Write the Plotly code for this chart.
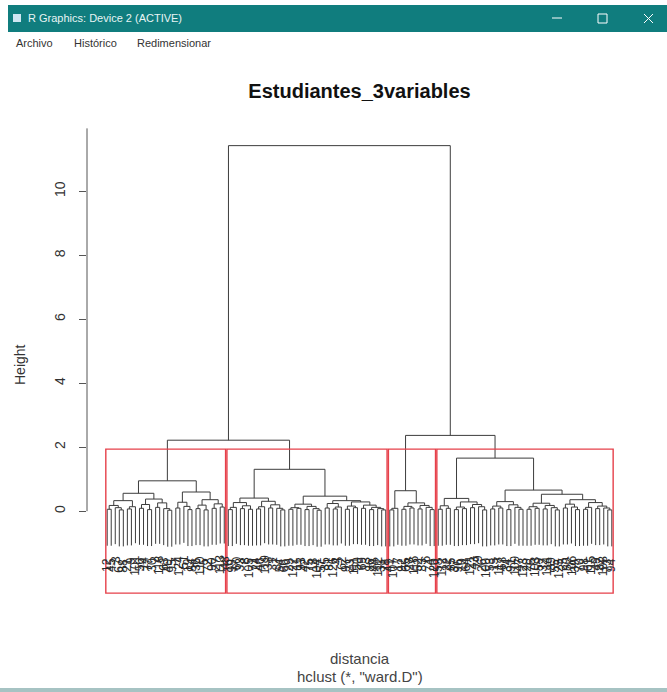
import plotly.graph_objects as go

# ---------------- data ----------------
TITLE = "Estudiantes_3variables"
X_LABEL = "distancia"
SUB_LABEL = 'hclust (*, "ward.D")'
Y_LABEL = "Height"
WINDOW_TITLE = "R Graphics: Device 2 (ACTIVE)"
MENU_ITEMS = ["Archivo", "Histórico", "Redimensionar"]

# nested merges: [height, left, right]; leaves are observation labels
cluster1 = [0.95,
            [0.56,
             [0.33, [0.18, [0.06, 12, 45], [0.11, 3, [0.04, 67, 88]]], [0.14, [0.07, 21, 9], 101]],
             [0.38, [0.21, [0.09, 56, 14], [0.05, 77, 30]], [0.26, [0.12, 2, 118], [0.08, 63, [0.03, 40, 95]]]]],
            [0.60,
             [0.28, [0.10, 7, 124], [0.15, 51, [0.05, 19, 84]]],
             [0.36, [0.19, [0.08, 36, 110], [0.04, 5, 72]], [0.23, [0.09, 90, 27], [0.13, 113, 48]]]]]

cluster2 = [1.31,
            [0.41,
             [0.27, [0.12, [0.05, 16, 99], 60], [0.17, [0.08, 33, 8], [0.06, 105, 71]]],
             [0.31, [0.14, [0.07, 24, 46], 119], [0.20, [0.10, 38, 1], [0.09, 87, [0.04, 54, 66]]]]],
            [0.47,
             [0.22, [0.11, [0.06, 29, 122], [0.09, 11, 93]], [0.15, [0.05, 42, 75], [0.08, 18, [0.03, 104, 57]]]],
             [0.33, [0.24, [0.10, 35, 81], [0.13, [0.07, 126, 4], 62]],
              [0.29, [0.16, [0.06, 97, 23], [0.11, 111, 50]],
               [0.19, [0.09, 69, 13], [0.12, [0.05, 86, 44], [0.08, 102, [0.04, 31, 78]]]]]]]]

cluster3 = [0.64,
            [0.09, [0.04, 41, 107], 17],
            [0.26, [0.15, [0.06, 92, 65], [0.10, 28, 116]], [0.18, [0.07, 52, 83], [0.12, 6, [0.05, 74, 120]]]]]

cluster4 = [1.66,
            [0.40,
             [0.17, [0.06, 58, 112], [0.09, 22, 85]],
             [0.29, [0.13, [0.05, 37, 96], [0.08, 10, 64]], [0.21, [0.11, 121, 43], [0.14, 79, [0.04, 26, 100]]]]],
            [0.66,
             [0.30, [0.16, [0.07, 53, 15], [0.10, 117, 68]], [0.20, [0.05, 34, 91], [0.12, 109, [0.06, 47, 123]]]],
             [0.53,
              [0.25, [0.14, [0.06, 20, 76], [0.09, 103, 59]], [0.18, [0.07, 32, 114], [0.11, 89, [0.04, 55, 125]]]],
              [0.36, [0.22, [0.10, 25, 80], [0.13, 106, [0.05, 39, 70]]],
               [0.27, [0.12, [0.06, 98, 61], 115], [0.16, [0.08, 49, 82], [0.10, 108, [0.04, 73, 94]]]]]]]]

merge_12_height = 2.22
merge_34_height = 2.37
root_height = 11.43
k_clusters = 4
hang = 0.1
y_ticks = [0, 2, 4, 6, 8, 10]
axis_top = 11.97

clusters = [cluster1, cluster2, cluster3, cluster4]
tree = [root_height, [merge_12_height, cluster1, cluster2], [merge_34_height, cluster3, cluster4]]


# ---------------- helpers ----------------
def all_heights(node, out):
    if isinstance(node, int):
        return out
    out.append(node[0])
    all_heights(node[1], out)
    all_heights(node[2], out)
    return out


def count_leaves(node):
    if isinstance(node, int):
        return 1
    return count_leaves(node[1]) + count_leaves(node[2])


heights = all_heights(tree, [])
hang_amt = hang * (max(heights) - min(heights))

seg_x, seg_y = [], []
leaf_x, leaf_y, leaf_lab = [], [], []


def place(node):
    if isinstance(node, int):
        idx = len(leaf_lab) + 1
        leaf_lab.append(node)
        leaf_x.append(idx)
        leaf_y.append(None)
        return idx, None, idx - 1
    h, a, b = node
    xa, ha, ia = place(a)
    xb, hb, ib = place(b)
    if ha is None:
        ha = h - hang_amt
        leaf_y[ia] = ha
    if hb is None:
        hb = h - hang_amt
        leaf_y[ib] = hb
    seg_x.extend([xa, xa, xb, xb, None])
    seg_y.extend([ha, h, h, hb, None])
    return (xa + xb) / 2, h, None


place(tree)
n_leaves = len(leaf_lab)

# ---------------- geometry of page ----------------
W, H = 667, 692
ML, MR, MT, MB = 87, 35, 121, 97
PW, PH = W - ML - MR, H - MT - MB
y_lo, y_hi = -2.62, 12.2
x_pad = 0.04 * (n_leaves - 1)
x_lo, x_hi = 1 - x_pad, n_leaves + x_pad


def px(xp):
    return (xp - ML) / PW


def py(yp):
    return (H - MB - yp) / PH


fig = go.Figure()
fig.add_trace(go.Scatter(x=seg_x, y=seg_y, mode="lines",
                         line=dict(color="#3c3c3c", width=1),
                         hoverinfo="skip", showlegend=False))

# cluster rectangles (rect.hclust)
sorted_h = sorted(heights, reverse=True)
cut_h = (sorted_h[k_clusters - 2] + sorted_h[k_clusters - 1]) / 2
rect_bottom = -2.56
shapes = []
start = 0
for c in clusters:
    n = count_leaves(c)
    shapes.append(dict(type="rect", xref="x", yref="y",
                       x0=start + 0.66, x1=start + n + 0.33,
                       y0=rect_bottom, y1=cut_h,
                       line=dict(color="#e6404a", width=1.4)))
    start += n

# y axis line
shapes.append(dict(type="line", xref="paper", yref="y", x0=0, x1=0, y0=0, y1=axis_top,
                   line=dict(color="#555555", width=1)))

annotations = []
for xv, yv, lab in zip(leaf_x, leaf_y, leaf_lab):
    annotations.append(dict(x=xv, y=yv, xref="x", yref="y", text=str(lab),
                            showarrow=False, textangle=-90, xanchor="center",
                            yanchor="top", yshift=-10,
                            font=dict(family="Liberation Sans", size=12, color="#2a2a2a")))


def label(text, xp, yp, size, color, family="Liberation Sans", xanchor="center", angle=0):
    annotations.append(dict(x=px(xp), y=py(yp), xref="paper", yref="paper", text=text,
                            showarrow=False, textangle=angle, xanchor=xanchor, yanchor="middle",
                            font=dict(family=family, size=size, color=color)))


label(Y_LABEL, 20, 365, 14, "#333333", angle=-90)
label(X_LABEL, 359.5, 658, 15, "#444444")
label(SUB_LABEL, 359.5, 676, 15, "#444444")

# window chrome
shapes.append(dict(type="rect", xref="paper", yref="paper", x0=px(8), x1=px(667), y0=py(32), y1=py(5),
                   fillcolor="#107d7e", line=dict(width=0), layer="above"))
shapes.append(dict(type="rect", xref="paper", yref="paper", x0=px(13), x1=px(21), y0=py(22), y1=py(14),
                   fillcolor="#cfe6f2", line=dict(width=0), layer="above"))
shapes.append(dict(type="line", xref="paper", yref="paper", x0=px(552), x1=px(562), y0=py(18), y1=py(18),
                   line=dict(color="white", width=1), layer="above"))
shapes.append(dict(type="rect", xref="paper", yref="paper", x0=px(598), x1=px(607), y0=py(23), y1=py(14),
                   line=dict(color="white", width=1), layer="above"))
shapes.append(dict(type="line", xref="paper", yref="paper", x0=px(644), x1=px(653), y0=py(14), y1=py(23),
                   line=dict(color="white", width=1), layer="above"))
shapes.append(dict(type="line", xref="paper", yref="paper", x0=px(644), x1=px(653), y0=py(23), y1=py(14),
                   line=dict(color="white", width=1), layer="above"))
shapes.append(dict(type="rect", xref="paper", yref="paper", x0=px(0), x1=px(667), y0=py(692), y1=py(688),
                   fillcolor="#a6c3c3", line=dict(width=0), layer="above"))
label(WINDOW_TITLE, 26, 18, 11, "#e8f4f4", xanchor="left")
for lab, xm in zip(MENU_ITEMS, [14, 72, 135]):
    label(lab, xm, 43, 11, "#333333", xanchor="left")

fig.update_layout(
    width=W, height=H,
    margin=dict(l=ML, r=MR, t=MT, b=MB),
    paper_bgcolor="white", plot_bgcolor="white",
    title=dict(text="<b>" + TITLE + "</b>", x=359.5 / W, xanchor="center",
               y=1 - 91 / H, yanchor="middle",
               font=dict(family="Liberation Sans", size=20, color="#111111")),
    xaxis=dict(range=[x_lo, x_hi], visible=False, showgrid=False, zeroline=False),
    yaxis=dict(range=[y_lo, y_hi], tickvals=y_ticks, ticks="outside", ticklen=7,
               tickcolor="#555555", tickangle=-90, showline=False, showgrid=False,
               zeroline=False, ticklabelstandoff=8,
               tickfont=dict(family="Liberation Sans", size=14, color="#333333")),
    shapes=shapes,
    annotations=annotations,
    showlegend=False,
)

fig.write_html("out.html")
